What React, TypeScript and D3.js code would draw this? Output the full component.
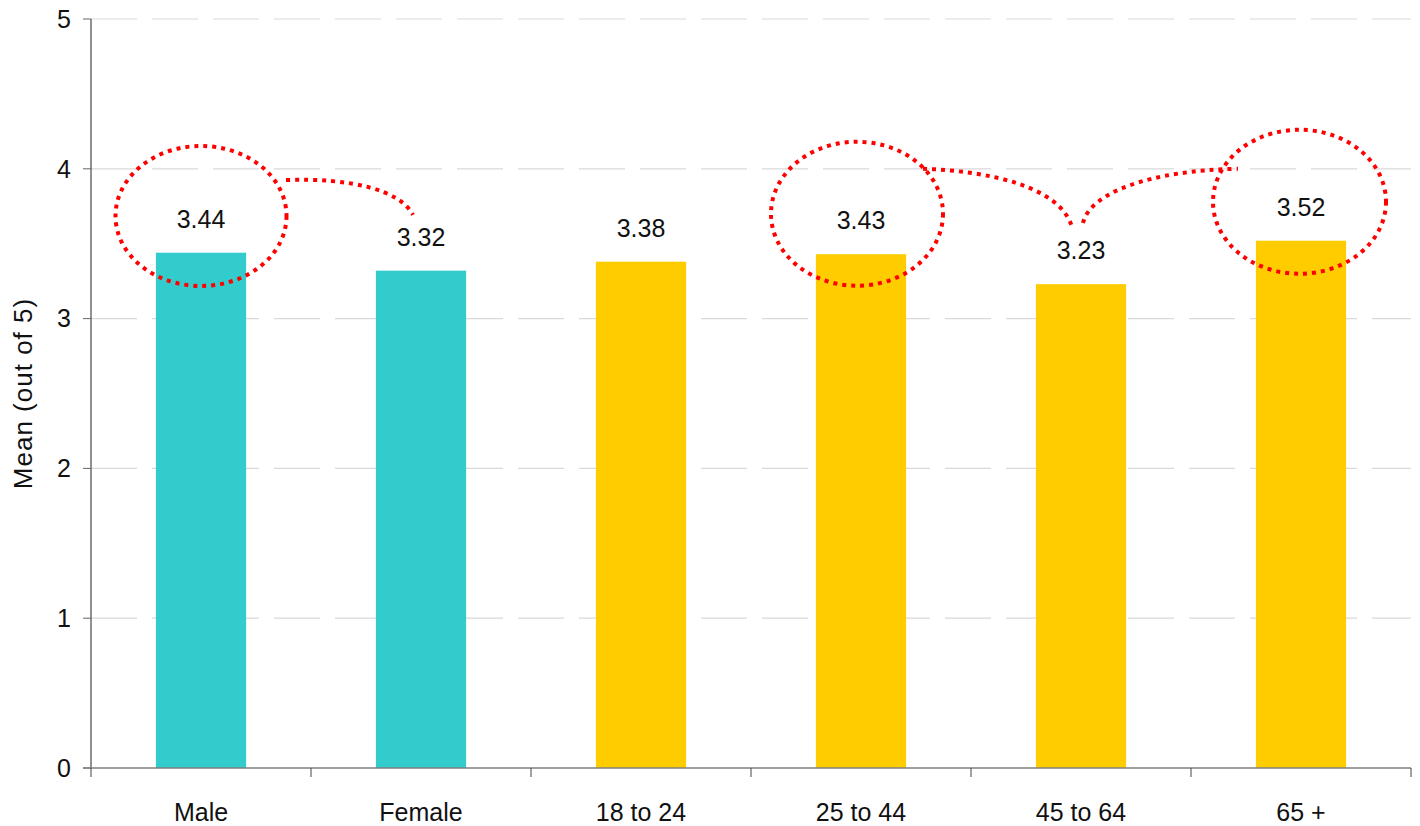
import React from 'react'
import * as d3 from 'd3'

const categories = ['Male', 'Female', '18 to 24', '25 to 44', '45 to 64', '65 +']
const means = [3.44, 3.32, 3.38, 3.43, 3.23, 3.52]
const groups = ['gender', 'gender', 'age', 'age', 'age', 'age']
const yTicks = [0, 1, 2, 3, 4, 5]

// circled labels (category, rx, ry in px) and dotted connectors between them
const circled = [
  { cat: 'Male', dx: 0, cy: 3.685, rx: 85.5, ry: 70 },
  { cat: '25 to 44', dx: -4, cy: 3.70, rx: 86, ry: 72 },
  { cat: '65 +', dx: -1.5, cy: 3.78, rx: 86.5, ry: 72 },
]
const connectors = [
  // [cat, dx, value] points: start, c1, c2, end
  [['Male', 85, 3.925], ['Male', 149, 3.94], ['Female', -21, 3.86], ['Female', -8, 3.692]],
  [['25 to 44', 62, 4.0], ['25 to 44', 129, 3.985], ['45 to 64', -21, 3.88], ['45 to 64', -9, 3.612]],
  [['45 to 64', 2, 3.638], ['45 to 64', 9, 3.84], ['65 +', -151, 3.99], ['65 +', -63, 4.0]],
]

const colors: Record<string, string> = { gender: '#33CCCC', age: '#FFCC00' }

const W = 1420
const H = 826
const margin = { top: 19, right: 9, bottom: 58, left: 91 }
const font = 'Liberation Sans, Arial, sans-serif'

export default function App() {
  const x = d3.scaleBand<string>()
    .domain(categories)
    .range([margin.left, W - margin.right])
    .paddingInner(0.59)
    .paddingOuter(0.295)
  const y = d3.scaleLinear().domain([0, 5]).range([H - margin.bottom, margin.top])
  const step = x.step()
  const cx = (c: string) => (x(c) as number) + x.bandwidth() / 2
  const bounds = d3.range(categories.length + 1).map((i) => margin.left + i * step)

  return (
    <svg width={W} height={H} style={{ position: 'absolute', left: 0, top: 0, fontFamily: font }}>
      {yTicks.filter((t) => t > 0).map((t) => (
        <line key={t} x1={margin.left} x2={W - margin.right} y1={y(t)} y2={y(t)}
          stroke="#d9d9d9" strokeWidth={1.2} strokeDasharray="46 15" />
      ))}
      {categories.map((c, i) => (
        <rect key={c} x={x(c)} y={y(means[i])} width={x.bandwidth()} height={y(0) - y(means[i])}
          fill={colors[groups[i]]} />
      ))}
      {/* y axis */}
      <line x1={margin.left} x2={margin.left} y1={y(5)} y2={y(0)} stroke="#222" strokeWidth={1} />
      {yTicks.map((t) => (
        <g key={t}>
          <line x1={margin.left - 8} x2={margin.left} y1={y(t)} y2={y(t)} stroke="#666" />
          <text x={margin.left - 20} y={y(t)} dy="0.35em" textAnchor="end" fontSize={25} fill="#111">{t}</text>
        </g>
      ))}
      {/* x axis */}
      <line x1={margin.left - 8} x2={W - margin.right} y1={y(0)} y2={y(0)} stroke="#7f7f7f" strokeWidth={1.5} />
      {bounds.map((b) => (
        <line key={b} x1={b} x2={b} y1={y(0)} y2={y(0) + 9} stroke="#444" />
      ))}
      {categories.map((c) => (
        <text key={c} x={cx(c)} y={y(0) + 44} dy="0.35em" textAnchor="middle" fontSize={25} fill="#111">{c}</text>
      ))}
      {/* value labels */}
      {categories.map((c, i) => (
        <text key={c} x={cx(c)} y={y(means[i]) - 25} textAnchor="middle" fontSize={25} fill="#111">
          {means[i].toFixed(2)}
        </text>
      ))}
      <text transform={`translate(32,${(y(0) + y(5)) / 2}) rotate(-90)`} textAnchor="middle" fontSize={26}
        letterSpacing={1} fill="#111">
        Mean (out of 5)
      </text>
      {/* annotations */}
      {circled.map((e) => (
        <ellipse key={e.cat} cx={cx(e.cat) + e.dx} cy={y(e.cy)} rx={e.rx} ry={e.ry}
          fill="none" stroke="#ff0000" strokeWidth={4} strokeDasharray="4 5" />
      ))}
      {connectors.map((pts, i) => {
        const p = pts.map(([c, dx, v]) => [cx(c as string) + (dx as number), y(v as number)])
        return (
          <path key={i} d={`M${p[0]}C${p[1]} ${p[2]} ${p[3]}`}
            fill="none" stroke="#ff0000" strokeWidth={4} strokeDasharray="4 5" />
        )
      })}
    </svg>
  )
}
